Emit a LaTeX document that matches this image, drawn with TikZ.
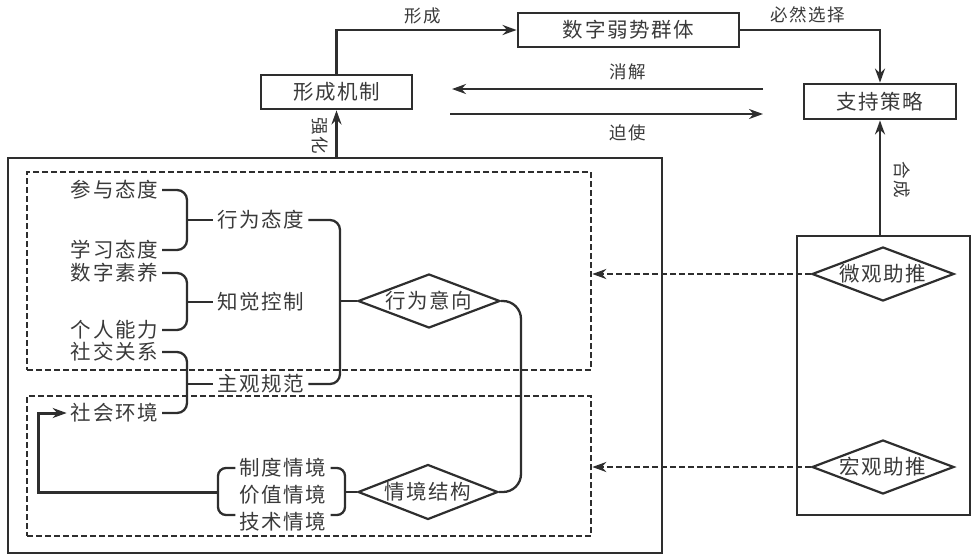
\documentclass[tikz,border=0pt]{standalone}
\usepackage{fontspec}
\newfontfamily\cjk[LetterSpace=8]{Noto Sans CJK SC}
\usetikzlibrary{arrows.meta,shapes.geometric,calc}
\definecolor{ln}{HTML}{2E2E2E}
\definecolor{tx}{HTML}{3A3A3A}
\begin{document}
\begin{tikzpicture}[x=1pt,y=-1pt,
  txt/.style={font=\cjk\fontsize{20.5}{23}\selectfont, text=tx, inner xsep=4pt, inner ysep=1pt},
  lbl/.style={font=\cjk\fontsize{17.5}{20}\selectfont, text=tx, inner sep=0pt},
  boxnode/.style={txt, draw=ln, line width=2.8pt, minimum height=34pt},
  dia/.style={txt, shape=diamond, draw=ln, line width=2.2pt, aspect=2.6, inner sep=0pt, minimum width=142pt, minimum height=54pt},
  conn/.style={draw=ln, line width=2.3pt},
  arr/.style={conn, -{Stealth[length=14pt,width=10pt]}},
  brk/.style={conn, rounded corners=10pt},
  dsh/.style={draw=ln, line width=2.6pt, dash pattern=on 6pt off 3pt, inner sep=0pt},
  dsharr/.style={draw=ln, line width=2.4pt, dash pattern=on 6pt off 3pt, -{Stealth[length=14pt,width=10pt]}},
]
\useasboundingbox (0,0) rectangle (975,555);

% frames
\node[draw=ln, line width=2.4pt, inner sep=0pt, minimum width=654pt, minimum height=395pt] (outer) at (335,355.5) {};
\node[dsh, minimum width=564pt, minimum height=198pt] (upbox) at (309,271) {};
\node[dsh, minimum width=564pt, minimum height=140pt] (lowbox) at (309,466) {};
\node[draw=ln, line width=2.4pt, inner sep=0pt, minimum width=173pt, minimum height=279pt] (rbox) at (883.5,375.5) {};

% top boxes
\node[boxnode, minimum width=151pt] (xcjz) at (336.5,92) {形成机制};
\node[boxnode, minimum width=221pt] (szrs) at (628.5,30) {数字弱势群体};
\node[boxnode, minimum width=152pt, minimum height=35pt] (zccl) at (880,101.5) {支持策略};

\draw[arr] (xcjz.north) |- (szrs.west);
\node[lbl] (lxc) at (423,16) {形成};
\draw[arr] (szrs.east) -| (zccl.north);
\node[lbl] (lbx) at (808,15) {必然选择};

\coordinate (x1) at (763,89);
\coordinate (x2) at (452,89);
\draw[arr] (x1) -- (x2);
\node[lbl] (lxj) at (628,72) {消解};
\coordinate (p1) at (450,114);
\coordinate (p2) at (763,114);
\draw[arr] (p1) -- (p2);
\node[lbl] (lps) at (628,133) {迫使};

\draw[arr] (outer.north -| xcjz.south) -- (xcjz.south);
\node[lbl, rotate=-90] (lqh) at (320,136) {强化};
\draw[arr] (rbox.north -| zccl.south) -- (zccl.south);
\node[lbl, rotate=-90] (lhc) at (902,180) {合成};

% right diamonds
\node[dia] (wg) at (883,274) {微观助推};
\node[dia] (hg) at (883,467) {宏观助推};
\draw[dsharr] (wg.west) -- (wg.west -| upbox.east);
\draw[dsharr] (hg.west) -- (hg.west -| lowbox.east);

% left column
\node[txt, anchor=east] (cy) at (162,190) {参与态度};
\node[txt, anchor=east] (xx) at (162,250) {学习态度};
\node[txt, anchor=east] (sz) at (162,273) {数字素养};
\node[txt, anchor=east] (nl) at (162,330) {个人能力};
\node[txt, anchor=east] (sj) at (162,352) {社交关系};
\node[txt, anchor=east] (hj) at (162,413) {社会环境};
\node[txt, anchor=west] (xt) at (213,220) {行为态度};
\node[txt, anchor=west] (zj) at (213,302) {知觉控制};
\node[txt, anchor=west] (zg) at (213,384) {主观规范};

\coordinate (bA) at (187,0);
\coordinate (bB) at (340,0);
\coordinate (bC) at (521,0);
\draw[brk] (cy.east) -| (bA |- xx.east) -- (xx.east);
\draw[conn] (bA |- xt.west) -- (xt.west);
\draw[brk] (sz.east) -| (bA |- nl.east) -- (nl.east);
\draw[conn] (bA |- zj.west) -- (zj.west);
\draw[brk] (sj.east) -| (bA |- hj.east) -- (hj.east);
\draw[conn] (bA |- zg.west) -- (zg.west);

\node[dia] (xwyx) at (429,301) {行为意向};
\draw[brk] (xt.east) -| (bB |- zg.east) -- (zg.east);
\draw[conn] (bB |- xwyx.west) -- (xwyx.west);

% lower part
\node[txt] (zd) at (283,468) {制度情境};
\node[txt] (jz) at (283,495) {价值情境};
\node[txt] (js) at (283,522) {技术情境};
\node[dia, minimum width=140pt, minimum height=55pt] (qjjg) at (428,492) {情境结构};

\coordinate (lb) at (218,0);
\coordinate (rb) at (345,0);
\coordinate (lp) at (38,0);
\path (zd.west) coordinate (z1) ([yshift=7pt]js.west) coordinate (z2)
      (zd.east) coordinate (z3) ([yshift=7pt]js.east) coordinate (z4);
\draw[conn, rounded corners=8pt] (z1) -| (lb |- z2) -- (z2);
\draw[conn, rounded corners=8pt] (z3) -| (rb |- z4) -- (z4);
\draw[conn] (rb |- qjjg.west) -- (qjjg.west);
\draw[conn, line width=3pt, -{Stealth[length=14pt,width=10pt]}] (lb |- qjjg.west) -| (lp |- hj.west) -- (hj.west);

\draw[conn, rounded corners=18pt] (xwyx.east) -| (bC |- qjjg.east) -- (qjjg.east);
\end{tikzpicture}
\end{document}
